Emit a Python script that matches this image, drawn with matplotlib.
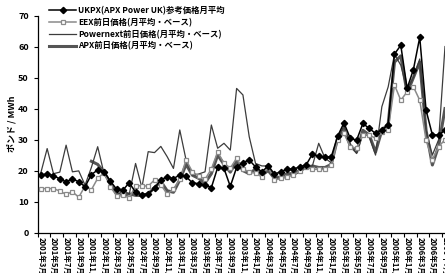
import matplotlib
matplotlib.use("Agg")
import matplotlib.pyplot as plt
import numpy as np

plt.rcParams['font.family'] = ['Noto Sans CJK JP', 'DejaVu Sans']

# monthly categories, 2001/3 .. 2006/7 (the chart is cut off at the right)
months = []
y, m = 2001, 3
while len(months) < 65:
    months.append("%d年%d月" % (y, m))
    m += 1
    if m > 12:
        y, m = y + 1, 1

ukpx = [18.6, 18.9, 18.4, 17.3, 16.4, 17.3, 16.4, 14.8, 18.7, 20.2,
        19.7, 16.6, 14.0, 13.7, 16.1, 13.0, 12.2, 12.5, 14.3, 17.0,
        18.0, 17.4, 18.6, 18.1, 16.0, 15.8, 15.4, 14.5, 21.0, 20.7,
        14.9, 21.0, 22.6, 23.4, 21.2, 19.6, 21.5, 18.9, 19.6, 20.5,
        20.5, 21.2, 21.8, 25.3, 24.7, 24.3, 24.5, 31.1, 35.4, 30.4,
        29.8, 35.2, 33.6, 32.0, 33.1, 34.8, 57.6, 60.4, 46.5, 52.6,
        63.0, 39.5, 31.5, 31.5, 33.0]
eex = [14.2, 14.2, 14.2, 13.4, 12.3, 13.2, 11.4, 15.0, 13.8, 17.5,
       19.3, 14.8, 11.9, 12.0, 11.2, 15.1, 15.1, 15.0, 17.0, 15.5,
       12.4, 14.0, 17.2, 23.4, 19.6, 18.3, 17.2, 20.5, 26.0, 22.4,
       20.8, 24.0, 20.5, 19.6, 19.1, 18.0, 21.2, 16.9, 17.5, 18.0,
       18.5, 19.9, 21.2, 20.4, 20.4, 20.4, 21.8, 29.8, 32.0, 27.7,
       27.2, 31.5, 31.5, 30.4, 32.5, 33.1, 47.6, 42.7, 45.4, 47.0,
       42.7, 29.8, 23.5, 27.7, 30.0]
powernext = [19.3, 27.1, 19.0, 19.5, 28.2, 19.6, 19.9, 15.3, 21.0, 27.7,
             19.1, 15.8, 11.8, 13.8, 12.4, 22.3, 14.5, 26.1, 25.8, 27.8,
             24.5, 20.7, 33.1, 23.4, 18.5, 18.9, 19.6, 34.7, 27.2, 28.8,
             26.6, 46.5, 44.4, 30.9, 22.3, 21.5, 21.5, 18.0, 17.0, 18.3,
             18.5, 19.5, 21.0, 21.5, 28.8, 24.0, 22.5, 30.0, 34.5, 28.5,
             25.5, 32.0, 31.0, 25.0, 40.6, 47.0, 57.5, 54.0, 46.0, 50.0,
             56.0, 33.0, 25.0, 30.0, 60.0]
apx = [np.nan] * 8 + [
    23.0, 22.0, 19.5, 16.0, 12.5, 12.0, 12.5, 12.0, 12.0, 12.5,
    14.5, 16.5, 13.5, 13.0, 17.0, 22.0, 18.5, 17.5, 16.0, 19.0,
    25.0, 22.0, 19.5, 23.0, 20.0, 19.0, 20.5, 18.5, 20.0, 17.5,
    18.0, 19.0, 19.0, 20.0, 21.0, 21.5, 21.0, 21.0, 22.0, 30.5,
    33.5, 28.0, 26.0, 33.0, 31.5, 26.0, 33.0, 35.0, 55.0, 57.0,
    45.0, 50.0, 55.0, 33.0, 21.8, 28.0, 40.0]

names = ["UKPX(APX Power UK)参考価格月平均",
         "EEX前日価格(月平均・ベース)",
         "Powernext前日価格(月平均・ベース)",
         "APX前日価格(月平均・ベース)"]

x = np.arange(len(months))

fig = plt.figure(figsize=(4.45, 2.73), dpi=100)
ax = fig.add_axes([0.0847, 0.148, 0.9153, 0.795])

ax.plot(x, ukpx, color='black', lw=1.1, marker='D', ms=3.2, mfc='black',
        mec='black', label=names[0], zorder=5)
ax.plot(x, eex, color='#8a8a8a', lw=1.1, marker='s', ms=3.4, mfc='white',
        mec='#8a8a8a', mew=0.9, label=names[1], zorder=4)
ax.plot(x, powernext, color='#3c3c3c', lw=0.9, label=names[2], zorder=3)
ax.plot(x, apx, color='#555555', lw=2.2, label=names[3], zorder=2)

ax.set_ylim(0, 70)
ax.set_yticks(np.arange(0, 71, 10))
ax.set_xlim(-0.5, 63.85)

ax.set_xticks(np.arange(-0.5, 64, 2))
ax.set_xticklabels([])
ax.set_xticks(x[::2], minor=True)
ax.set_xticklabels(months[::2], minor=True, rotation=-90, fontsize=5.5,
                   fontweight='bold', va='top', ha='center')
ax.tick_params(axis='x', which='major', length=3, width=0.8, direction='out')
ax.tick_params(axis='x', which='minor', length=0, pad=3)
ax.tick_params(axis='y', length=3, width=0.8, direction='out', labelsize=6.5)
for t in ax.get_yticklabels():
    t.set_fontweight('bold')

ax.set_ylabel('ポンド / MWh', fontsize=6.5, fontweight='bold', labelpad=1)

for s in ['top', 'right']:
    ax.spines[s].set_visible(False)
ax.spines['left'].set_linewidth(0.9)
ax.spines['bottom'].set_linewidth(0.9)

leg = ax.legend(loc='upper left', bbox_to_anchor=(0.02, 1.06), frameon=False,
                fontsize=6, handlelength=3.2, handletextpad=0.3,
                labelspacing=0.35, borderaxespad=0)
for t in leg.get_texts():
    t.set_fontweight('bold')

fig.savefig('out.png', dpi=100)
